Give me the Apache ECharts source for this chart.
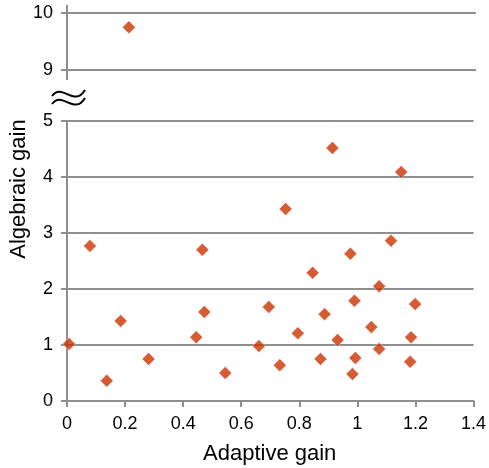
<!DOCTYPE html>
<html>
<head>
<meta charset="utf-8">
<script src="https://cdn.jsdelivr.net/npm/echarts@6/dist/echarts.min.js"></script>
<style>
  html, body { margin: 0; padding: 0; background: #fff; }
  #chart { width: 489px; height: 468px; }
</style>
</head>
<body>
<div id="chart"></div>
<script>
// adaptive gain (x) vs algebraic gain (y)
const adaptiveGain = [0.212, 0.007, 0.079, 0.137, 0.185, 0.281, 0.445, 0.466, 0.473, 0.545,
  0.661, 0.695, 0.733, 0.753, 0.795, 0.846, 0.873, 0.887, 0.914, 0.932,
  0.976, 0.983, 0.99, 0.993, 1.048, 1.075, 1.075, 1.116, 1.151, 1.182, 1.185, 1.199];
const algebraicGain = [9.75, 1.02, 2.77, 0.36, 1.43, 0.75, 1.14, 2.70, 1.59, 0.50,
  0.98, 1.68, 0.64, 3.43, 1.21, 2.29, 0.75, 1.55, 4.52, 1.09,
  2.63, 0.48, 1.79, 0.77, 1.32, 2.05, 0.93, 2.86, 4.09, 0.70, 1.14, 1.73];
const xTicks = [0, 0.2, 0.4, 0.6, 0.8, 1, 1.2, 1.4];

const upperPts = [], lowerPts = [];
for (let i = 0; i < adaptiveGain.length; i++) {
  const p = [adaptiveGain[i], algebraicGain[i]];
  if (algebraicGain[i] >= 9) upperPts.push(p); else lowerPts.push(p);
}

const font = 'Liberation Sans, Arial, sans-serif';
const axisGray = '#8f8f8f';
const gridLine = { lineStyle: { color: axisGray, width: 2 } };

const chart = echarts.init(document.getElementById('chart'));
const markStyle = { color: '#cc3300', borderColor: '#fff', borderWidth: 0.6 };

// wavy break mark between the two panels
function wave(dy) {
  return {
    type: 'bezierCurve',
    shape: { x1: 52, y1: 96 + dy, cpx1: 62, cpy1: 82 + dy, cpx2: 74, cpy2: 108 + dy, x2: 85, y2: 90 + dy },
    style: { stroke: '#000', lineWidth: 2, fill: null }
  };
}

chart.setOption({
  animation: false,
  backgroundColor: '#fff',
  grid: [
    { left: 67, right: 13, top: 13, height: 57 },
    { left: 67, right: 13, top: 121, height: 280 }
  ],
  xAxis: [
    {
      gridIndex: 0, type: 'value', min: 0, max: 1.4, interval: 0.2,
      axisLine: { show: false }, axisTick: { show: false },
      axisLabel: { show: false }, splitLine: { show: false }
    },
    {
      gridIndex: 1, type: 'value', min: 0, max: 1.4, interval: 0.2,
      axisLine: { show: true, onZero: false, lineStyle: { color: axisGray, width: 2 } },
      axisTick: { show: true, length: 6, lineStyle: { color: axisGray, width: 2 } },
      axisLabel: { color: '#000', fontSize: 18, fontFamily: font, margin: 14,
        formatter: v => { const t = xTicks.find(k => Math.abs(k - v) < 1e-6); return t === undefined ? '' : String(t); } },
      splitLine: { show: false }
    }
  ],
  yAxis: [
    {
      gridIndex: 0, type: 'value', min: 9, max: 10, interval: 1,
      axisLine: { show: true, lineStyle: { color: axisGray, width: 2 } },
      axisTick: { show: true, length: 6, lineStyle: { color: axisGray, width: 2 } },
      axisLabel: { color: '#000', fontSize: 18, fontFamily: font, margin: 14 },
      splitLine: Object.assign({ show: true }, gridLine)
    },
    {
      gridIndex: 1, type: 'value', min: 0, max: 5, interval: 1,
      axisLine: { show: true, lineStyle: { color: axisGray, width: 2 } },
      axisTick: { show: true, length: 6, lineStyle: { color: axisGray, width: 2 } },
      axisLabel: { color: '#000', fontSize: 18, fontFamily: font, margin: 14 },
      splitLine: Object.assign({ show: true }, gridLine)
    }
  ],
  series: [
    { type: 'scatter', xAxisIndex: 0, yAxisIndex: 0, symbol: 'diamond', symbolSize: 13,
      itemStyle: markStyle, data: upperPts },
    { type: 'scatter', xAxisIndex: 1, yAxisIndex: 1, symbol: 'diamond', symbolSize: 13,
      itemStyle: markStyle, data: lowerPts }
  ],
  graphic: [
    // upper axis stub runs a little past the panel, as in the original
    { type: 'line', shape: { x1: 67, y1: 5, x2: 67, y2: 80 }, style: { stroke: axisGray, lineWidth: 2 } },
    wave(0),
    wave(8),
    { type: 'text', left: 203, top: 443,
      style: { text: 'Adaptive gain', fontSize: 22, fontFamily: font, fill: '#000' } },
    { type: 'text', x: 8, y: 189, rotation: Math.PI / 2,
      style: { text: 'Algebraic gain', fontSize: 22, fontFamily: font, fill: '#000',
        align: 'center', verticalAlign: 'top' } }
  ]
});
</script>
</body>
</html>
